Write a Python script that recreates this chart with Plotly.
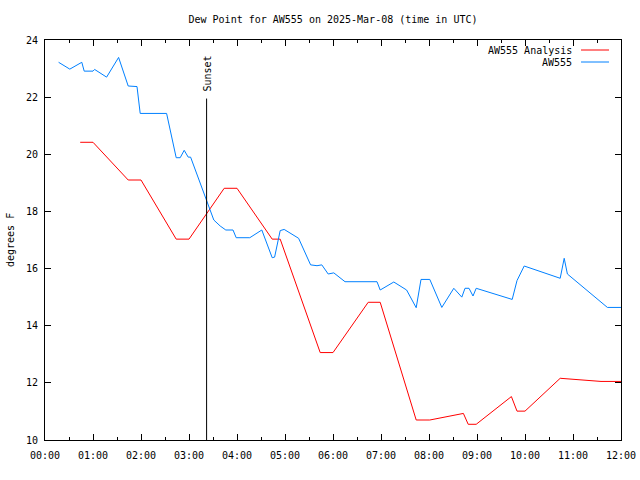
import plotly.graph_objects as go

DAY = "2025-03-08 "

# Observed dew point (AW555)
obs_times = ["00:17", "00:31", "00:46", "00:49", "01:00", "01:02", "01:17", "01:32", "01:44",
             "01:55", "01:59", "02:32", "02:44", "02:49", "02:54", "02:59", "03:02", "03:31",
             "03:39", "03:46", "03:55", "03:59", "04:16", "04:31", "04:44", "04:47", "04:54",
             "04:59", "05:17", "05:32", "05:40", "05:46", "05:54", "06:01", "06:15", "06:55",
             "06:59", "07:16", "07:32", "07:44", "07:50", "08:01", "08:16", "08:31", "08:41",
             "08:45", "08:50", "08:55", "08:59", "09:44", "09:50", "09:59", "10:44", "10:49",
             "10:53", "11:43", "12:00"]
obs_vals = [23.22, 22.98, 23.22, 22.91, 22.91, 22.97, 22.70, 23.39, 22.39,
            22.37, 21.43, 21.43, 19.88, 19.88, 20.14, 19.90, 19.90, 17.70,
            17.49, 17.35, 17.35, 17.08, 17.08, 17.35, 16.38, 16.40, 17.33,
            17.37, 17.06, 16.13, 16.10, 16.13, 15.81, 15.85, 15.54, 15.54,
            15.25, 15.53, 15.25, 14.63, 15.62, 15.62, 14.64, 15.31, 15.00,
            15.31, 15.31, 15.04, 15.31, 14.92, 15.58, 16.09, 15.66, 16.36,
            15.81, 14.64, 14.64]

# Analysis dew point (AW555 Analysis)
ana_times = ["00:44", "01:00", "01:44", "02:00", "02:44", "03:00", "03:44", "04:00", "04:44",
             "04:54", "05:44", "06:00", "06:44", "06:59", "07:44", "08:01", "08:43", "08:49",
             "08:59", "09:43", "09:50", "10:00", "10:44", "11:00", "11:17", "11:35", "12:00"]
ana_vals = [20.42, 20.42, 19.10, 19.10, 17.03, 17.03, 18.81, 18.81, 17.03,
            17.03, 13.06, 13.06, 14.82, 14.82, 10.70, 10.70, 10.93, 10.55,
            10.55, 11.52, 11.01, 11.01, 12.16, 12.13, 12.10, 12.05, 12.05]

sunset_time = "03:22"
title_text = "Dew Point for AW555 on 2025-Mar-08 (time in UTC)"
series_names = ["AW555 Analysis", "AW555"]
series_colors = ["#ff0000", "#0080ff"]

FONT = "DejaVu Sans Mono"

fig = go.Figure()
fig.add_trace(go.Scatter(x=[DAY + t for t in ana_times], y=ana_vals, mode="lines",
                         name=series_names[0], line=dict(color=series_colors[0], width=1)))
fig.add_trace(go.Scatter(x=[DAY + t for t in obs_times], y=obs_vals, mode="lines",
                         name=series_names[1], line=dict(color=series_colors[1], width=1)))

# Sunset marker
fig.add_shape(type="line", xref="x", yref="y", x0=DAY + sunset_time, x1=DAY + sunset_time,
              y0=10, y1=21.95, line=dict(color="black", width=1))
fig.add_annotation(x=DAY + sunset_time, y=22.81, xref="x", yref="y", text="Sunset",
                   textangle=-90, showarrow=False, xanchor="center", yanchor="middle",
                   font=dict(family=FONT, size=10, color="black"))

# Gnuplot-style legend (text left, sample right)
legend_y = [0.975, 0.945]
for name, color, ly in zip(series_names, series_colors, legend_y):
    fig.add_annotation(x=0.9184, y=ly, xref="paper", yref="paper", text=name, xanchor="right",
                       yanchor="middle", showarrow=False,
                       font=dict(family=FONT, size=10, color="black"))
    fig.add_shape(type="line", xref="paper", yref="paper", x0=0.9306, x1=0.9792, y0=ly, y1=ly,
                  line=dict(color=color, width=1))

# Y axis label
fig.add_annotation(x=0, y=0.5, xref="paper", yref="paper", xshift=-35, text="degrees F",
                   textangle=-90, showarrow=False, xanchor="center", yanchor="middle",
                   font=dict(family=FONT, size=10, color="black"))

fig.update_layout(
    width=640, height=480,
    margin=dict(l=45, r=19, t=40, b=40, pad=0, autoexpand=False),
    paper_bgcolor="white", plot_bgcolor="white",
    showlegend=False,
    font=dict(family=FONT, size=10, color="black"),
    title=dict(text=title_text, x=0.5, xref="paper", xanchor="center",
               y=1 - 19 / 480, yanchor="middle", font=dict(family=FONT, size=10, color="black")),
    xaxis=dict(type="date", range=[DAY + "00:00", DAY + "12:00"], tickformat="%H:%M",
               dtick=3600000, tick0=DAY + "00:00", ticks="inside", ticklen=6, tickcolor="black",
               minor=dict(dtick=1800000, ticks="inside", ticklen=3, tickcolor="black", showgrid=False),
               showline=True, linecolor="black", linewidth=1, mirror="allticks",
               showgrid=False, zeroline=False, ticklabelstandoff=6, automargin=False,
               tickfont=dict(family=FONT, size=10, color="black")),
    yaxis=dict(range=[10, 24], dtick=2, ticks="inside", ticklen=6, tickcolor="black",
               showline=True, linecolor="black", linewidth=1, mirror="allticks",
               showgrid=False, zeroline=False, ticklabelstandoff=4, automargin=False,
               tickfont=dict(family=FONT, size=10, color="black")),
)

fig.write_html("out.html")
